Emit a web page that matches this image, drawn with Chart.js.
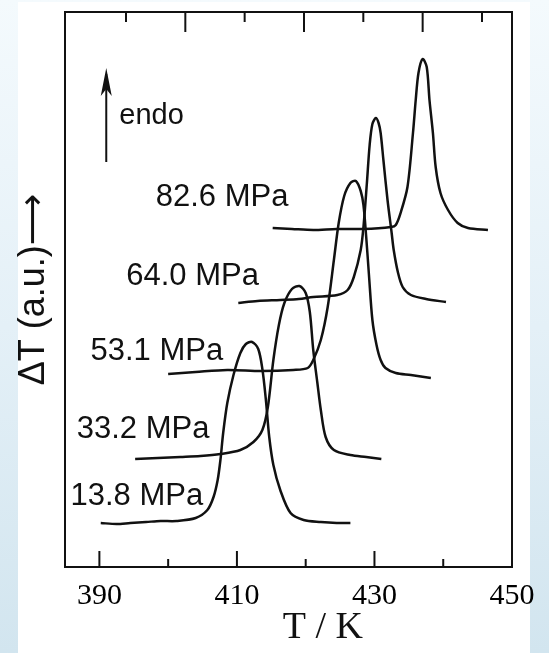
<!DOCTYPE html>
<html>
<head>
<meta charset="utf-8">
<script src="https://cdn.jsdelivr.net/npm/chart.js@4.4.1/dist/chart.umd.min.js"></script>
<style>
  html, body { margin: 0; padding: 0; }
  body {
    width: 549px; height: 653px; overflow: hidden; position: relative;
    background: linear-gradient(to bottom, #f4fafd 0%, #e4f0f7 50%, #d2e5ef 100%);
  }
  #paper { position: absolute; left: 18px; top: 2px; width: 512px; height: 651px; background: #fff; }
  canvas { position: absolute; left: 0; top: 0; }
</style>
</head>
<body>
<div id="paper"></div>
<canvas id="dsc" width="549" height="653"></canvas>
<script>
// DSC traces, T in K, signal in arbitrary units (offset per pressure)
const pressures = ['13.8 MPa', '33.2 MPa', '53.1 MPa', '64.0 MPa', '82.6 MPa'];

const t138 = [390.2, 392.5, 394.5, 396.8, 398.9, 401.2, 404.0, 405.7, 406.6, 407.2, 407.6, 408.0, 408.6, 409.5, 410.5, 411.3, 412.2, 413.1, 413.7, 414.2, 414.7, 415.3, 416.3, 417.8, 419.7, 422.2, 424.5, 426.5];
const d138 = [44, 43, 44, 45, 46, 46, 49, 57, 70, 87, 107, 134, 164, 192, 214, 223, 225, 218, 198, 168, 130, 102, 77, 54, 47, 45, 44, 44];

const t332 = [395.2, 398.5, 401.8, 404.7, 407.6, 410.5, 412.4, 413.7, 414.5, 415.3, 416.1, 416.9, 418.0, 419.1, 420.0, 420.6, 421.1, 421.7, 422.2, 422.9, 424.1, 426.5, 428.8, 431.0];
const d332 = [108, 109, 110, 111, 113, 117, 125, 137, 160, 207, 242, 264, 278, 281, 274, 255, 217, 184, 157, 130, 117, 112, 110, 108];

const t531 = [400.0, 404.0, 408.6, 413.5, 418.2, 420.3, 421.1, 422.2, 423.2, 424.1, 424.8, 425.6, 426.5, 427.3, 428.0, 428.4, 428.8, 429.2, 429.7, 430.3, 430.9, 431.6, 433.1, 435.3, 438.2];
const d531 = [193, 195, 197, 196, 197, 199, 207, 227, 260, 307, 344, 371, 384, 386, 376, 362, 330, 292, 247, 222, 207, 199, 194, 192, 189];

const t640 = [410.2, 413.0, 416.3, 419.0, 421.1, 424.6, 426.1, 427.0, 428.0, 428.4, 428.9, 429.3, 429.7, 430.2, 430.6, 430.9, 431.3, 431.9, 432.5, 432.8, 433.4, 434.1, 435.3, 437.5, 440.4];
const d640 = [264, 266, 267, 268, 270, 272, 277, 290, 317, 340, 384, 422, 443, 449, 444, 434, 407, 367, 334, 317, 295, 280, 272, 268, 265];

const t826 = [415.2, 418.0, 421.1, 424.5, 428.4, 432.4, 433.1, 433.8, 434.8, 435.6, 436.0, 436.4, 437.0, 437.6, 438.0, 438.5, 438.9, 439.6, 440.7, 442.1, 443.6, 446.5];
const d826 = [339, 338, 337, 338, 338, 340, 342, 354, 380, 434, 467, 494, 508, 500, 467, 434, 400, 374, 357, 344, 339, 337];

// axis ticks
const xLabels = [390, 410, 430, 450];
const xMinor = [400, 420, 440];
const topMajor = [1, 3, 5];
const topMinor = [0, 2, 4, 6];

// where the pressure labels sit (T, signal) - left edge / baseline
const labelAt = [[385.8, 62], [386.7, 129], [388.7, 207], [393.9, 282], [398.2, 361]];

const ink = '#111111';
const temps = [t138, t332, t531, t640, t826];
const sigs = [d138, d332, d531, d640, d826];

const datasets = pressures.map((p, i) => ({
  label: p,
  data: temps[i].map((t, j) => ({ x: t, y: sigs[i][j] })),
  borderColor: ink,
  borderWidth: 2.5,
  pointRadius: 0,
  tension: 0.3,
  fill: false
}));

const decor = {
  id: 'decor',
  afterDraw(chart) {
    const { ctx, chartArea: a, scales: { x, x2, y } } = chart;
    ctx.save();
    ctx.strokeStyle = ink;
    ctx.fillStyle = ink;
    ctx.lineWidth = 2;

    // inward ticks
    const tick = (px, y0, len) => {
      ctx.beginPath(); ctx.moveTo(px, y0); ctx.lineTo(px, y0 + len); ctx.stroke();
    };
    xLabels.forEach(v => tick(x.getPixelForValue(v), a.bottom, -16));
    xMinor.forEach(v => tick(x.getPixelForValue(v), a.bottom, -8));
    topMajor.forEach(v => tick(x2.getPixelForValue(v), a.top, 20));
    topMinor.forEach(v => tick(x2.getPixelForValue(v), a.top, 10));

    // pressure labels
    ctx.font = '31px "Liberation Sans", Arial, sans-serif';
    ctx.textBaseline = 'alphabetic';
    ctx.textAlign = 'left';
    pressures.forEach((p, i) => {
      ctx.fillText(p, x.getPixelForValue(labelAt[i][0]), y.getPixelForValue(labelAt[i][1]));
    });

    // endo arrow
    const ax = x.getPixelForValue(391.0);
    const aTop = y.getPixelForValue(499), aBot = y.getPixelForValue(405);
    ctx.beginPath(); ctx.moveTo(ax, aBot); ctx.lineTo(ax, aTop + 6); ctx.stroke();
    ctx.beginPath();
    ctx.moveTo(ax, aTop);
    ctx.lineTo(ax - 5.5, aTop + 28);
    ctx.lineTo(ax, aTop + 21);
    ctx.lineTo(ax + 5.5, aTop + 28);
    ctx.closePath();
    ctx.fill();
    ctx.font = '29px "Liberation Sans", Arial, sans-serif';
    ctx.fillText('endo', x.getPixelForValue(392.9), y.getPixelForValue(443));

    // x title (sits right of centre in the original)
    ctx.font = '38px "Liberation Serif", "Times New Roman", serif';
    ctx.textAlign = 'center';
    ctx.fillText('T / K', x.getPixelForValue(422.5), a.bottom + 71);
    ctx.restore();
  }
};

new Chart(document.getElementById('dsc'), {
  type: 'line',
  data: { datasets },
  options: {
    responsive: false,
    animation: false,
    layout: { padding: 0 },
    plugins: { legend: { display: false }, tooltip: { enabled: false } },
    scales: {
      x: {
        type: 'linear', position: 'bottom', min: 385, max: 450,
        afterBuildTicks: s => { s.ticks = xLabels.map(v => ({ value: v })); },
        afterFit: s => { s.height = 86; },
        grid: { display: false, drawTicks: false },
        border: { display: true, color: ink, width: 2 },
        ticks: {
          autoSkip: false, maxRotation: 0, padding: 11, color: '#000',
          font: { family: '"Liberation Serif", "Times New Roman", serif', size: 30 }
        }
      },
      x2: {
        type: 'linear', position: 'top', min: -1.028, max: 6.506,
        afterFit: s => { s.height = 12; },
        grid: { display: false, drawTicks: false },
        border: { display: true, color: ink, width: 2 },
        ticks: { display: false }
      },
      y: {
        type: 'linear', position: 'left', min: 0, max: 555,
        afterFit: s => { s.width = 65; },
        grid: { display: false, drawTicks: false },
        border: { display: true, color: ink, width: 2 },
        ticks: { display: false },
        title: {
          display: true, text: 'ΔT (a.u.)⟶', color: ink,
          padding: { top: 12, bottom: 0 },
          font: { family: '"Liberation Sans", "DejaVu Sans", Arial, sans-serif', size: 36 }
        }
      },
      y2: {
        type: 'linear', position: 'right', min: 0, max: 555,
        afterFit: s => { s.width = 37; },
        grid: { display: false, drawTicks: false },
        border: { display: true, color: ink, width: 2 },
        ticks: { display: false }
      }
    }
  },
  plugins: [decor]
});
</script>
</body>
</html>
